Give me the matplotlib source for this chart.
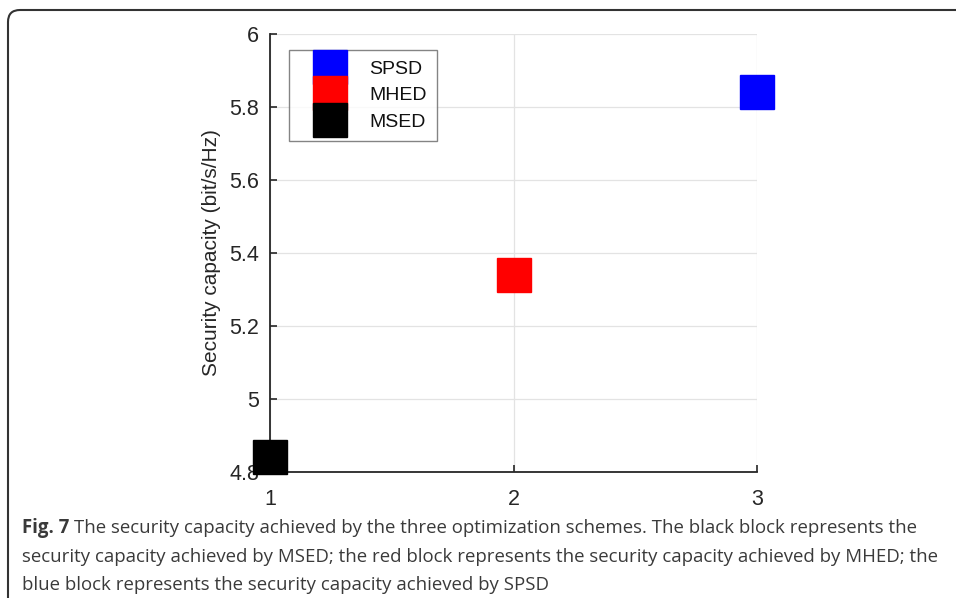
import matplotlib
matplotlib.use("Agg")
import matplotlib.pyplot as plt
from matplotlib.patches import FancyBboxPatch
from matplotlib.transforms import IdentityTransform

# data
schemes = ["SPSD", "MHED", "MSED"]
x_pos = [3, 2, 1]
capacity = [5.84, 5.34, 4.84]
colors = ["#0000ff", "#ff0000", "#000000"]
xticks = [1, 2, 3]
yticks = [4.8, 5.0, 5.2, 5.4, 5.6, 5.8, 6.0]
ytick_labels = ["4.8", "5", "5.2", "5.4", "5.6", "5.8", "6"]
caption_lines = [
    "The security capacity achieved by the three optimization schemes. The black block represents the",
    "security capacity achieved by MSED; the red block represents the security capacity achieved by MHED; the",
    "blue block represents the security capacity achieved by SPSD",
]

W, H = 956, 598
fig = plt.figure(figsize=(W / 100, H / 100), dpi=100)
fig.patch.set_facecolor("white")

ax = fig.add_axes([270 / W, (H - 472) / H, (757 - 270) / W, (472 - 34) / H])
axfont = "Liberation Sans"

for xs, ys, c, lab in zip(x_pos, capacity, colors, schemes):
    ax.plot([xs], [ys], linestyle="none", marker="s", markersize=24.5,
            color=c, markeredgecolor=c, label=lab, clip_on=False, zorder=3)

ax.set_xlim(1, 3)
ax.set_ylim(4.8, 6.0)
ax.set_xticks(xticks)
ax.set_xticklabels([str(v) for v in xticks], fontfamily=axfont, fontsize=15.5)
ax.set_yticks(yticks)
ax.set_yticklabels(ytick_labels, fontfamily=axfont, fontsize=15.5)
ax.tick_params(direction="in", length=5, width=1.2, colors="#262626",
               top=False, right=False)
ax.tick_params(axis="x", pad=12.5)
ax.tick_params(axis="y", pad=8)
ax.grid(True, color="#e3e3e3", linewidth=0.9)
ax.set_axisbelow(True)
for s in ["top", "right"]:
    ax.spines[s].set_visible(False)
for s in ["left", "bottom"]:
    ax.spines[s].set_color("#262626")
    ax.spines[s].set_linewidth(1.3)

ax.set_ylabel("Security capacity (bit/s/Hz)", fontfamily=axfont, fontsize=15,
              color="#262626", labelpad=6)

leg = ax.legend(loc="upper left", bbox_to_anchor=(19 / 487, 1 - 16 / 438),
                frameon=True, fancybox=False, edgecolor="#666666",
                prop={"family": axfont, "size": 14}, labelspacing=0.47,
                handlelength=3.2, handletextpad=0.41, borderpad=0.51,
                borderaxespad=0, markerscale=1.0)
leg.get_frame().set_linewidth(1.0)
for t in leg.get_texts():
    t.set_color("#111111")

# outer rounded frame
frame = FancyBboxPatch((8, -40), 1100, (H - 10) + 40,
                       boxstyle="round,pad=0,rounding_size=12",
                       transform=IdentityTransform(), facecolor="none",
                       edgecolor="#333333", linewidth=1.5, clip_on=False)
fig.add_artist(frame)

# caption
capfont = "Open Sans"
capsize = 13.4
capcolor = "#3a3a3a"
baselines = [533, 562, 590]
t0 = fig.text(22 / W, 1 - baselines[0] / H, "Fig. 7", fontfamily=capfont,
              fontweight="bold", fontsize=capsize, color=capcolor, va="baseline")
fig.canvas.draw()
bb = t0.get_window_extent()
fig.text((bb.x1 + 5) / W, 1 - baselines[0] / H, caption_lines[0], fontfamily=capfont,
         fontsize=capsize, color=capcolor, va="baseline")
for line, b in zip(caption_lines[1:], baselines[1:]):
    fig.text(22 / W, 1 - b / H, line, fontfamily=capfont, fontsize=capsize,
             color=capcolor, va="baseline")

fig.savefig("out.png", dpi=100)
